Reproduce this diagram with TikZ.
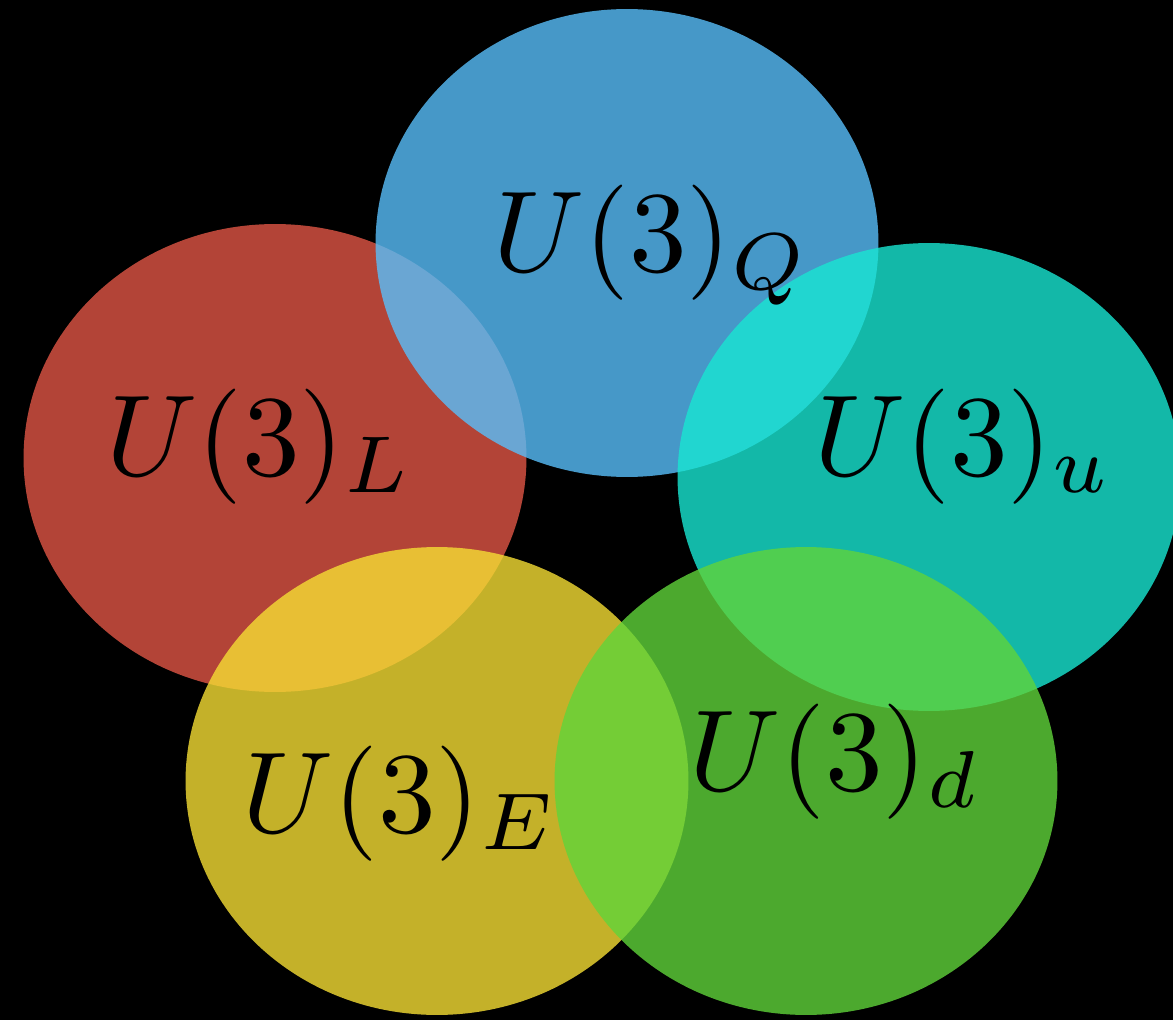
\documentclass[tikz,border=0pt]{standalone}
\usetikzlibrary{shapes.geometric}
\definecolor{cRed}{RGB}{224,86,69}
\definecolor{cBlue}{RGB}{88,191,251}
\definecolor{cTeal}{RGB}{24,230,210}
\definecolor{cYellow}{RGB}{246,222,52}
\definecolor{cGreen}{RGB}{96,212,58}
\begin{document}
\begin{tikzpicture}[x=0.02cm,y=-0.02cm]
\tikzset{
  blob/.style={ellipse, draw=none, fill opacity=0.8, inner sep=0pt,
    minimum width=10.06cm, minimum height=9.36cm},
  lab/.style={anchor=base west, inner sep=0pt, font=\normalsize, scale=6.56, text=black}
}
\fill[black] (0,0) rectangle (1173,1020);
\useasboundingbox (0,0) rectangle (1173,1020);
\node[blob, fill=cRed] (eL) at (275,458) {};
\node[blob, fill=cBlue] (eQ) at (627,243) {};
\node[blob, fill=cTeal] (eu) at (929,477) {};
\node[blob, fill=cYellow] (eE) at (437,781) {};
\node[blob, fill=cGreen] (ed) at (806,781) {};
\node[lab] (tQ) at (491,272) {$U(3)_Q$};
\node[lab] (tL) at (104,475) {$U(3)_L$};
\node[lab] (tu) at (812,475) {$U(3)_u$};
\node[lab] (tE) at (240,832) {$U(3)_E$};
\node[lab] (td) at (687,790) {$U(3)_d$};
\end{tikzpicture}
\end{document}
